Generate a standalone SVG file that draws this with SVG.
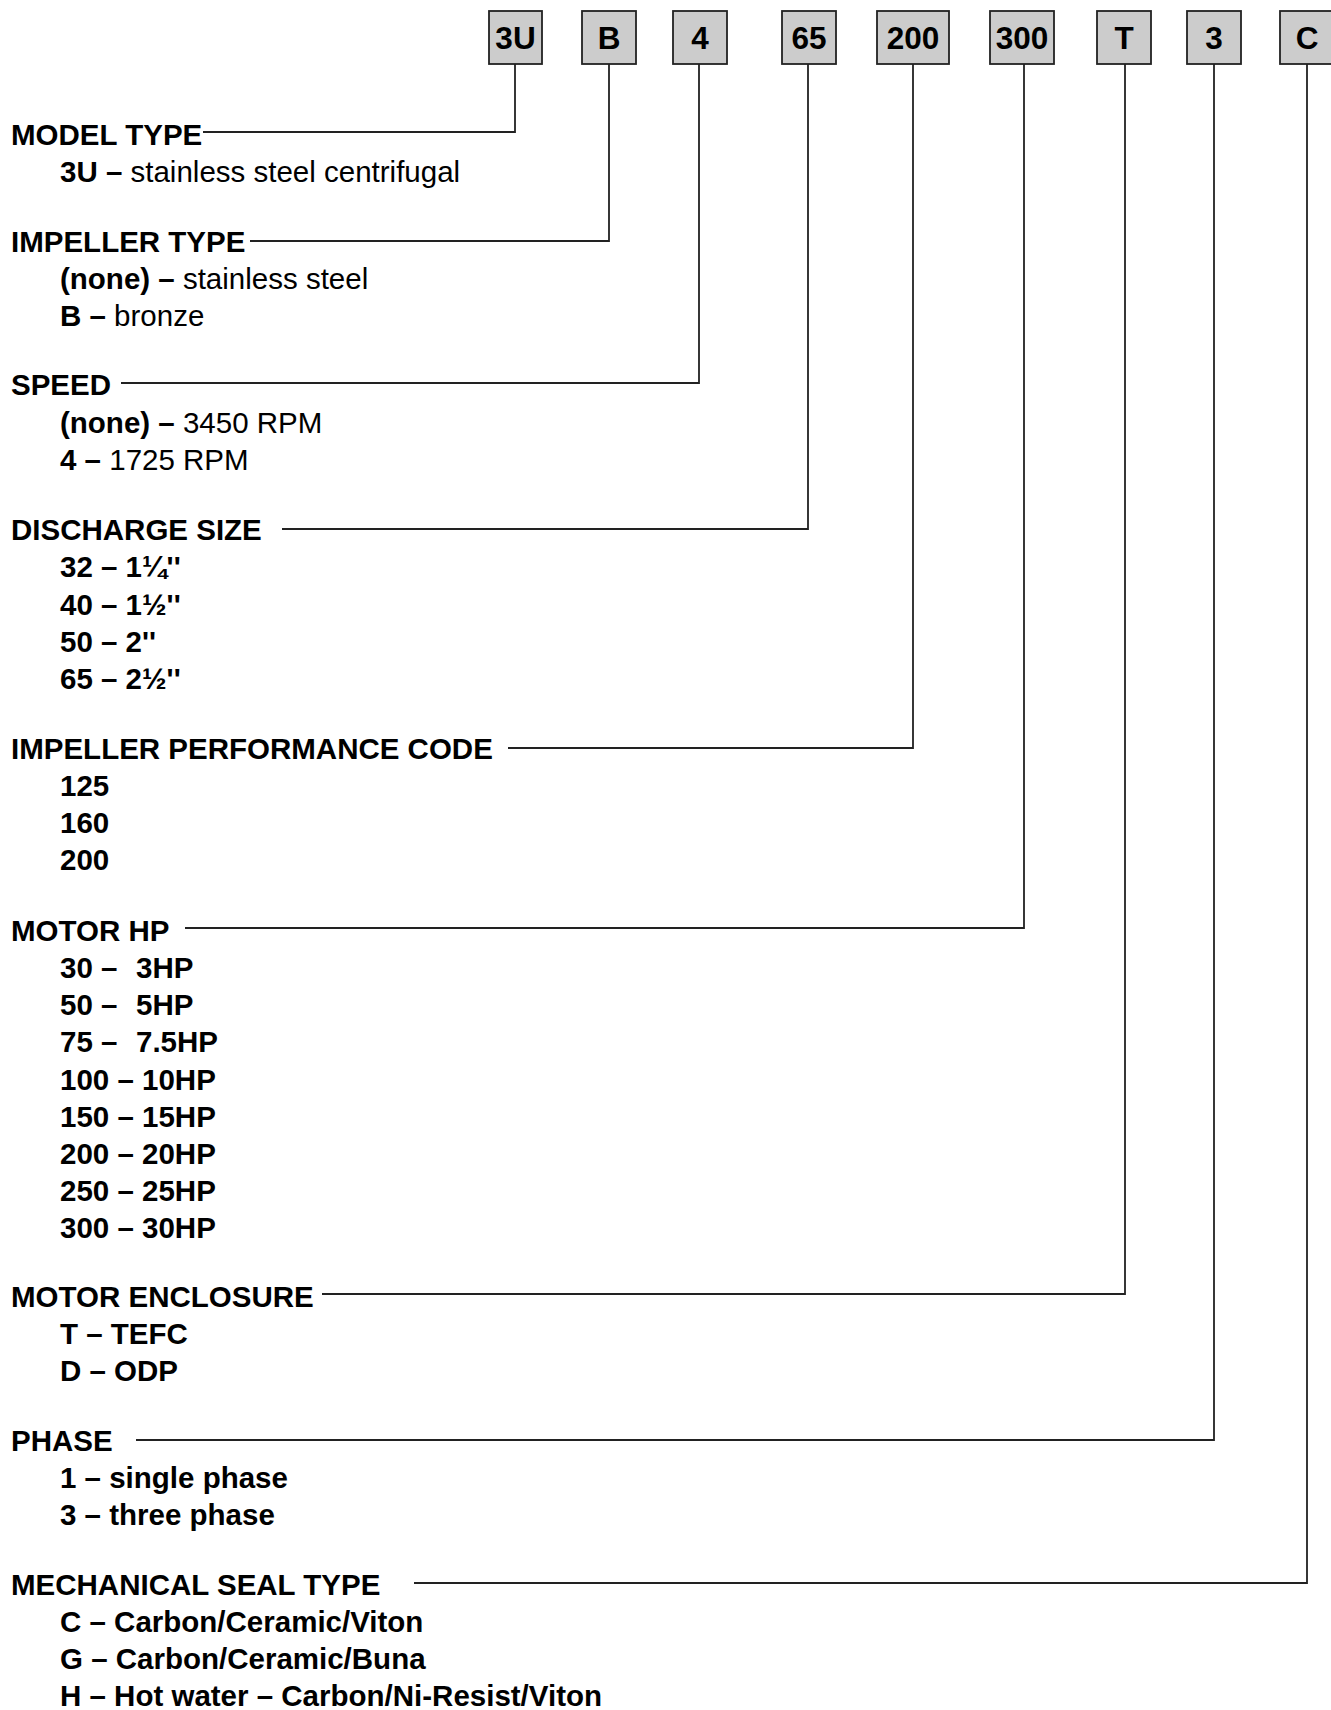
<svg xmlns="http://www.w3.org/2000/svg" width="1331" height="1710" viewBox="0 0 1331 1710">
<style>
  text { font-family: "Liberation Sans", Arial, Helvetica, sans-serif; fill: #000; }
  .h { font-size: 29.5px; font-weight: bold; }
  .i { font-size: 29.5px; font-weight: bold; }
  .r { font-weight: normal; }
  .box rect { fill: #cccccc; stroke: #222222; stroke-width: 1.8; }
  .box text { font-size: 31.5px; font-weight: bold; text-anchor: middle; }
  .conn path { fill: none; stroke: #222222; stroke-width: 1.8; }
</style>
<rect x="0" y="0" width="1331" height="1710" fill="#ffffff"/>

<g id="code-boxes">
  <g id="box-3U" class="box"><rect x="489" y="11" width="53" height="53"/><text x="515.5" y="49">3U</text></g>
  <g id="box-B" class="box"><rect x="582" y="11" width="54" height="53"/><text x="609" y="49">B</text></g>
  <g id="box-4" class="box"><rect x="673" y="11" width="54" height="53"/><text x="700" y="49">4</text></g>
  <g id="box-65" class="box"><rect x="782" y="11" width="54" height="53"/><text x="809" y="49">65</text></g>
  <g id="box-200" class="box"><rect x="877" y="11" width="72" height="53"/><text x="913" y="49">200</text></g>
  <g id="box-300" class="box"><rect x="990" y="11" width="64" height="53"/><text x="1022" y="49">300</text></g>
  <g id="box-T" class="box"><rect x="1097" y="11" width="54" height="53"/><text x="1124" y="49">T</text></g>
  <g id="box-3" class="box"><rect x="1187" y="11" width="54" height="53"/><text x="1214" y="49">3</text></g>
  <g id="box-C" class="box"><rect x="1280" y="11" width="54" height="53"/><text x="1307" y="49">C</text></g>
</g>

<g id="connectors" class="conn">
  <path d="M515,64 V132 H203"/>
  <path d="M609,64 V241 H250"/>
  <path d="M699,64 V383 H121"/>
  <path d="M808,64 V529 H282"/>
  <path d="M913,64 V748 H508"/>
  <path d="M1024,64 V928 H185"/>
  <path d="M1125,64 V1294 H322"/>
  <path d="M1214,64 V1440 H136"/>
  <path d="M1307,64 V1583 H414"/>
</g>

<g id="model-type">
  <text class="h" x="11" y="145">MODEL TYPE</text>
  <text class="i" x="60" y="182">3U – <tspan class="r">stainless steel centrifugal</tspan></text>
</g>

<g id="impeller-type">
  <text class="h" x="11" y="252">IMPELLER TYPE</text>
  <text class="i" x="60" y="289">(none) – <tspan class="r">stainless steel</tspan></text>
  <text class="i" x="60" y="326">B – <tspan class="r">bronze</tspan></text>
</g>

<g id="speed">
  <text class="h" x="11" y="395">SPEED</text>
  <text class="i" x="60" y="433">(none) – <tspan class="r">3450 RPM</tspan></text>
  <text class="i" x="60" y="470">4 – <tspan class="r">1725 RPM</tspan></text>
</g>

<g id="discharge-size">
  <text class="h" x="11" y="540">DISCHARGE SIZE</text>
  <text class="i" x="60" y="577">32 – 1¼''</text>
  <text class="i" x="60" y="615">40 – 1½''</text>
  <text class="i" x="60" y="652">50 – 2''</text>
  <text class="i" x="60" y="689">65 – 2½''</text>
</g>

<g id="impeller-performance-code">
  <text class="h" x="11" y="759">IMPELLER PERFORMANCE CODE</text>
  <text class="i" x="60" y="796">125</text>
  <text class="i" x="60" y="833">160</text>
  <text class="i" x="60" y="870">200</text>
</g>

<g id="motor-hp">
  <text class="h" x="11" y="941">MOTOR HP</text>
  <text class="i" x="60" y="978">30 – <tspan x="136">3HP</tspan></text>
  <text class="i" x="60" y="1015">50 – <tspan x="136">5HP</tspan></text>
  <text class="i" x="60" y="1052">75 – <tspan x="136">7.5HP</tspan></text>
  <text class="i" x="60" y="1090">100 – 10HP</text>
  <text class="i" x="60" y="1127">150 – 15HP</text>
  <text class="i" x="60" y="1164">200 – 20HP</text>
  <text class="i" x="60" y="1201">250 – 25HP</text>
  <text class="i" x="60" y="1238">300 – 30HP</text>
</g>

<g id="motor-enclosure">
  <text class="h" x="11" y="1307">MOTOR ENCLOSURE</text>
  <text class="i" x="60" y="1344">T – TEFC</text>
  <text class="i" x="60" y="1381">D – ODP</text>
</g>

<g id="phase">
  <text class="h" x="11" y="1451">PHASE</text>
  <text class="i" x="60" y="1488">1 – single phase</text>
  <text class="i" x="60" y="1525">3 – three phase</text>
</g>

<g id="mechanical-seal-type">
  <text class="h" x="11" y="1595">MECHANICAL SEAL TYPE</text>
  <text class="i" x="60" y="1632">C – Carbon/Ceramic/Viton</text>
  <text class="i" x="60" y="1669">G – Carbon/Ceramic/Buna</text>
  <text class="i" x="60" y="1706">H – Hot water – Carbon/Ni-Resist/Viton</text>
</g>
</svg>
